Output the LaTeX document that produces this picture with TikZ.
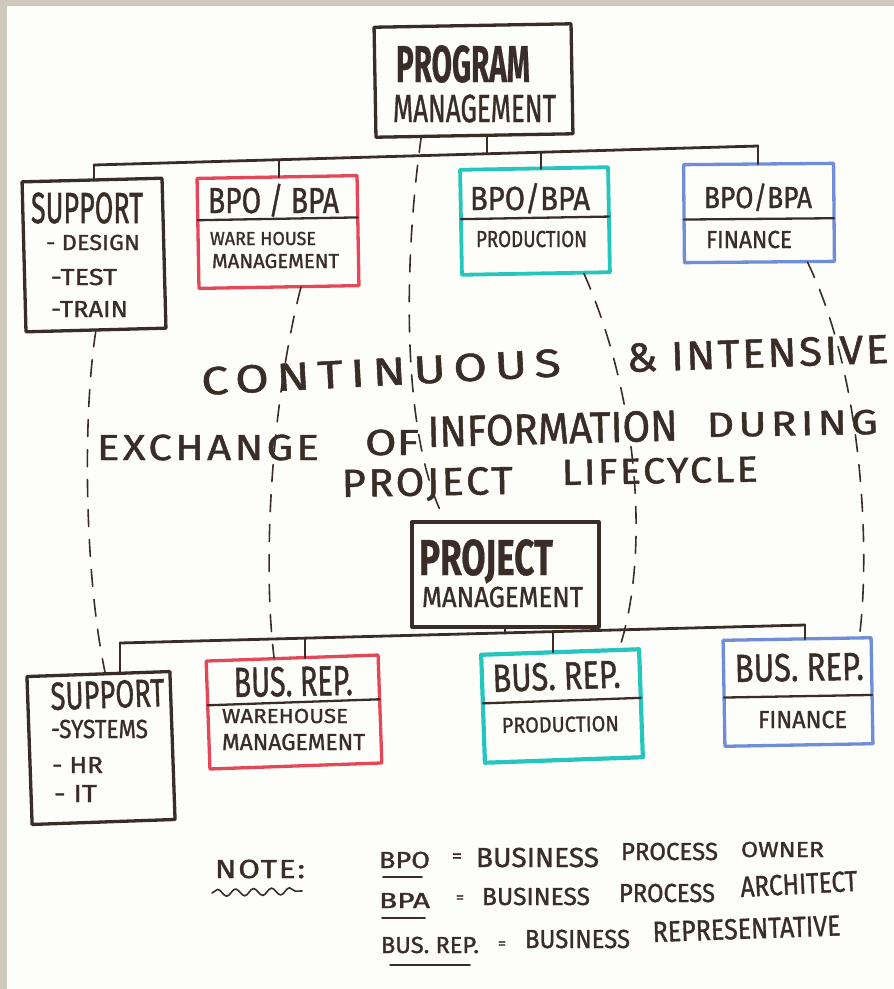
\documentclass[tikz,border=0pt]{standalone}
\usepackage{fontspec}
\setmainfont{Fira Sans}[FakeBold=1.2,BoldFont={Fira Sans Bold},BoldFeatures={FakeBold=0.6}]
\usepackage{graphicx}
\usetikzlibrary{calc,decorations.pathmorphing}

\definecolor{ink}{RGB}{58,45,39}
\definecolor{redink}{RGB}{228,72,88}
\definecolor{tealink}{RGB}{38,198,190}
\definecolor{blueink}{RGB}{112,142,216}
\definecolor{paper}{RGB}{253,254,250}
\definecolor{paperedge}{RGB}{208,200,189}

% lettering scaled to a given width and cap height
\newcommand\hw[3]{\resizebox{#1pt}{#2pt}{\smash{#3}\vphantom{H}}}
% the same, with extra tracking between letters
\newcommand\hws[4]{\resizebox{#1pt}{#2pt}{\addfontfeature{LetterSpace=#3}\smash{#4}\vphantom{H}}}

\begin{document}
\begin{tikzpicture}[x=1pt,y=-1pt,line cap=round,line join=round,
  txt/.style={inner sep=0pt,outer sep=0pt,anchor=base west,text=ink},
  frame/.style={draw=#1,line width=3.3pt,inner sep=0pt,outer sep=0pt},
  bus/.style={draw=ink,line width=2.8pt},
  divider/.style={draw=ink,line width=2.3pt},
  link/.style={draw=ink,line width=1.6pt,dash pattern=on 17pt off 13pt},
  uline/.style={draw=ink,line width=1.6pt}]

\useasboundingbox (0,0) rectangle (894,989);
\fill[paper] (0,0) rectangle (894,989);
\fill[paperedge] (0,0) rectangle (7,989);
\fill[paperedge] (0,0) rectangle (894,6);

% ---------- boxes ----------
\node[frame=ink,minimum width=197pt,minimum height=110pt,rotate=1] (pm) at (473.5,80.5) {};
\node[frame=ink,minimum width=140pt,minimum height=150pt,rotate=1.5] (sup1) at (94,255) {};
\node[frame=redink,minimum width=160pt,minimum height=110pt,rotate=1] (wh1) at (278,232) {};
\node[frame=tealink,line width=3.8pt,minimum width=148pt,minimum height=105pt,rotate=1] (pr1) at (535,221) {};
\node[frame=blueink,minimum width=150pt,minimum height=98pt,rotate=0.5] (fi1) at (759,213) {};

\node[frame=ink,minimum width=187pt,minimum height=105pt] (pjm) at (505.5,574.5) {};
\node[frame=ink,minimum width=143pt,minimum height=148pt,rotate=2] (sup2) at (101,748) {};
\node[frame=redink,minimum width=172pt,minimum height=108pt,rotate=2] (wh2) at (294,712) {};
\node[frame=tealink,line width=4.2pt,minimum width=158pt,minimum height=108pt,rotate=2] (pr2) at (562,706) {};
\node[frame=blueink,minimum width=148pt,minimum height=106pt,rotate=1] (fi2) at (798,692) {};

% dividers under the role titles
\draw[divider] ($(wh1.north west)!0.38!(wh1.south west)$) -- ($(wh1.north east)!0.38!(wh1.south east)$);
\draw[divider] ($(pr1.north west)!0.47!(pr1.south west)$) -- ($(pr1.north east)!0.47!(pr1.south east)$);
\draw[divider] ($(fi1.north west)!0.56!(fi1.south west)$) -- ($(fi1.north east)!0.56!(fi1.south east)$);
\draw[divider] ($(wh2.north west)!0.41!(wh2.south west)$) -- ($(wh2.north east)!0.41!(wh2.south east)$);
\draw[divider] ($(pr2.north west)!0.45!(pr2.south west)$) -- ($(pr2.north east)!0.45!(pr2.south east)$);
\draw[divider] ($(fi2.north west)!0.54!(fi2.south west)$) -- ($(fi2.north east)!0.54!(fi2.south east)$);

% ---------- tree connectors ----------
\coordinate (j0) at (487,154);
\coordinate (j1) at (94,165);
\coordinate (j2) at (279,160);
\coordinate (j3) at (541,152);
\coordinate (j4) at (758,146);
\draw[bus] (j0 |- pm.south) -- (j0);
\draw[bus] (j1) -- (j4);
\draw[bus] (j1) -- (j1 |- sup1.north);
\draw[bus] (j2) -- (j2 |- wh1.north);
\draw[bus] (j3) -- (j3 |- pr1.north);
\draw[bus] (j4) -- (j4 |- fi1.north);

\coordinate (k0) at (505,633);
\coordinate (k1) at (120,643);
\coordinate (k2) at (305,638);
\coordinate (k3) at (553,632);
\coordinate (k4) at (805,625);
\draw[bus] (k0 |- pjm.south) -- (k0);
\draw[bus] (k1) -- (k4);
\draw[bus] (k1) -- (k1 |- sup2.north);
\draw[bus] (k2) -- (k2 |- wh2.north);
\draw[bus] (k3) -- (k3 |- pr2.north);
\draw[bus] (k4) -- (k4 |- fi2.north);

% ---------- dashed information links ----------
\draw[link] (sup1.south) .. controls (82,420) and (85,580) .. ([xshift=7pt]sup2.north);
\draw[link] ([xshift=22pt]wh1.south) .. controls (272,400) and (262,560) .. ([xshift=-18pt]wh2.north);
\draw[link] ([xshift=-53pt]pm.south) .. controls (405,250) and (400,420) .. ([xshift=28pt,yshift=12pt]pjm.north west);
\draw[link] ([xshift=48pt]pr1.south) .. controls (640,400) and (650,560) .. ([xshift=58pt]pr2.north);
\draw[link] ([xshift=48pt]fi1.south) .. controls (865,380) and (870,560) .. ([xshift=62pt]fi2.north);

% ---------- lettering: top level ----------
\node[txt] (tprog) at (396,82) {\bfseries\hw{134}{36}{PROGRAM}};
\node[txt] (tpm) at (393,122) {\hw{163}{27}{MANAGEMENT}};

\node[txt] (ts1) at (31,223) {\hw{112}{30}{SUPPORT}};
\node[txt] (ts2) at (46,250) {\hw{94}{15}{- DESIGN}};
\node[txt] (ts3) at (51,285) {\hw{66}{16}{-TEST}};
\node[txt] (ts4) at (51,317) {\hw{77}{16}{-TRAIN}};

\node[txt] (tw1) at (208,213) {\hw{131}{25}{BPO / BPA}};
\node[txt] (tw2) at (210,245) {\hw{106}{13}{WARE HOUSE}};
\node[txt] (tw3) at (212,268) {\hw{127}{14}{MANAGEMENT}};

\node[txt] (tp1) at (470,210) {\hw{120}{23}{BPO/BPA}};
\node[txt] (tp2) at (476,247) {\hw{111}{16}{PRODUCTION}};

\node[txt] (tf1) at (704,208) {\hw{108}{21}{BPO/BPA}};
\node[txt] (tf2) at (706,248) {\hw{86}{17}{FINANCE}};

% ---------- lettering: centre message ----------
\node[txt,rotate=3] (m1) at (202,395) {\hws{360}{27}{16}{CONTINUOUS}};
\node[txt,rotate=2] (m2) at (627,372) {\hws{262}{28}{6}{\&\ INTENSIVE}};
\node[txt] (m3) at (97,460) {\hws{222}{25}{8}{EXCHANGE}};
\node[txt] (m4) at (365,455) {\hw{54}{25}{OF}};
\node[txt,rotate=1.5] (m5) at (428,447) {\hw{250}{30}{INFORMATION}};
\node[txt,rotate=1] (m6) at (707,437) {\hws{171}{24}{10}{DURING}};
\node[txt,rotate=1] (m7) at (342,497) {\hws{171}{27}{6}{PROJECT}};
\node[txt,rotate=1] (m8) at (562,485) {\hws{196}{25}{6}{LIFECYCLE}};

% ---------- lettering: project level ----------
\node[txt] (tproj) at (419,575) {\bfseries\hw{134}{35}{PROJECT}};
\node[txt] (tpjm) at (422,607) {\hw{161}{20}{MANAGEMENT}};

\node[txt,rotate=2] (u1) at (51,710) {\hw{114}{27}{SUPPORT}};
\node[txt] (u2) at (51,738) {\hw{97}{18}{-SYSTEMS}};
\node[txt] (u3) at (52,773) {\hw{51}{16}{- HR}};
\node[txt] (u4) at (54,802) {\hw{43}{17}{- IT}};

\node[txt,rotate=1] (v1) at (234,697) {\hw{119}{29}{BUS. REP.}};
\node[txt] (v2) at (222,723) {\hw{126}{14}{WAREHOUSE}};
\node[txt] (v3) at (222,750) {\hw{143}{16}{MANAGEMENT}};

\node[txt,rotate=2] (w1) at (493,692) {\hw{128}{27}{BUS. REP.}};
\node[txt,rotate=1] (w2) at (502,733) {\hw{117}{15}{PRODUCTION}};

\node[txt,rotate=1] (x1) at (735,682) {\hw{129}{27}{BUS. REP.}};
\node[txt] (x2) at (758,728) {\hw{89}{17}{FINANCE}};

% ---------- legend ----------
\node[txt] (note) at (215,878) {\hws{90}{18}{6}{NOTE:}};
\draw[ink,line width=1.6pt,decorate,decoration={snake,segment length=18pt,amplitude=3.5pt}]
  ([xshift=-3pt,yshift=-15pt]note.base west) -- ([xshift=-3pt,yshift=-13pt]note.base east);

\node[txt] (bpo) at (379,868) {\hw{51}{16}{BPO}};
\node[inner sep=0pt,text=ink,font=\fontsize{20}{20}\selectfont] (eq1) at (457,858) {=};
\node[txt] (l11) at (476,867) {\hw{123}{19}{BUSINESS}};
\node[txt] (l12) at (621,860) {\hw{97}{17}{PROCESS}};
\node[txt] (l13) at (741,857) {\hw{83}{15}{OWNER}};
\draw[uline] ([xshift=4pt,yshift=-9pt]bpo.base west) -- ([xshift=-8pt,yshift=-9pt]bpo.base east);

\node[txt] (bpa) at (379,908) {\hw{51}{15}{BPA}};
\node[inner sep=0pt,text=ink,font=\fontsize{16}{16}\selectfont] (eq2) at (460,899) {=};
\node[txt] (l21) at (482,905) {\hw{108}{17}{BUSINESS}};
\node[txt] (l22) at (619,902) {\hw{96}{18}{PROCESS}};
\node[txt,rotate=3] (l23) at (741,897) {\hw{117}{20}{ARCHITECT}};
\draw[uline] ([xshift=3pt,yshift=-10pt]bpa.base west) -- ([xshift=-5pt,yshift=-10pt]bpa.base east);

\node[txt] (brep) at (381,953) {\hw{98}{16}{BUS. REP.}};
\node[inner sep=0pt,text=ink,font=\fontsize{16}{16}\selectfont] (eq3) at (502,945) {=};
\node[txt] (l31) at (525,948) {\hw{105}{18}{BUSINESS}};
\node[txt,rotate=2] (l32) at (653,942) {\hw{188}{20}{REPRESENTATIVE}};
\draw[uline] ([xshift=9pt,yshift=-12pt]brep.base west) -- ([xshift=-9pt,yshift=-12pt]brep.base east);

\end{tikzpicture}
\end{document}
